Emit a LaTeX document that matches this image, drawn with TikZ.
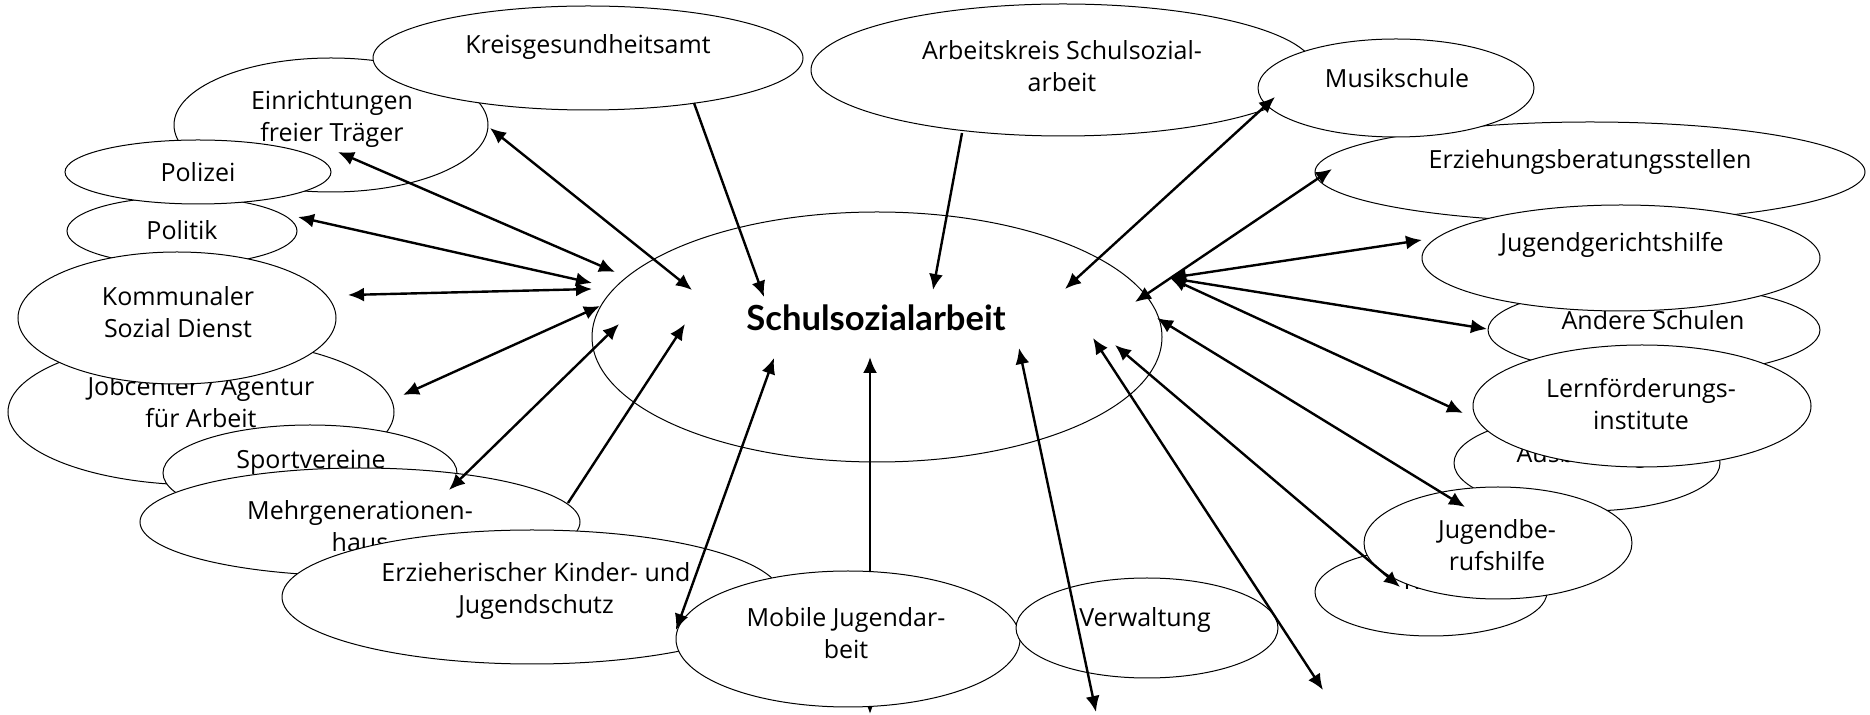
\documentclass[tikz,border=0pt]{standalone}
\usepackage{fontspec}
\setmainfont{Open Sans}
\newfontfamily\centrefont{Lato}
\usetikzlibrary{shapes.geometric,arrows.meta}

\tikzset{
  bubble/.style={draw, ellipse, fill=white, inner sep=0pt, line width=0.5pt},
  lbl/.style={align=center, inner sep=0pt, font=\fontsize{12.5}{16}\selectfont},
  lblr/.style={lbl},
  link/.style={line width=1.2pt, <->, >={Latex[length=8pt,width=7pt]}},
  into/.style={line width=1.2pt, ->, >={Latex[length=8pt,width=7pt]}},
}

\begin{document}
\begin{tikzpicture}[x=0.5pt, y=-0.5pt]
\useasboundingbox (0,0) rectangle (1870,715);

% centre
\node[bubble, fill=none, minimum width=285pt, minimum height=125pt] (ssa) at (877,337) {};
\node[lbl, font=\centrefont\fontsize{17.3}{20}\selectfont\bfseries] (ssaT) at (876,318) {Schulsozialarbeit};

% left side
\node[bubble, minimum width=157pt, minimum height=67pt] (einr) at (331,125) {};
\node[lbl] (einrT) at (332,119) {Einrichtungen\\freier Träger};
\node[bubble, minimum width=215pt, minimum height=52pt] (kreis) at (588,58) {};
\node[lbl] (kreisT) at (588,47) {Kreisgesundheitsamt};
\node[bubble, minimum width=115pt, minimum height=34pt] (politik) at (182,231) {};
\node[lbl] (politikT) at (182,230) {Politik};
\node[bubble, minimum width=133pt, minimum height=32pt] (polizei) at (198,172) {};
\node[lbl] (polizeiT) at (198,172) {Polizei};
\node[bubble, minimum width=193pt, minimum height=73pt] (job) at (201,412) {};
\node[lbl] (jobT) at (201,402) {Jobcenter / Agentur\\für Arbeit};
\node[bubble, minimum width=159pt, minimum height=66pt] (ksd) at (177,318) {};
\node[lbl] (ksdT) at (178,312) {Kommunaler\\Sozial Dienst};
\node[bubble, minimum width=147pt, minimum height=48pt] (sport) at (310,473) {};
\node[lbl] (sportT) at (311,462) {Sportvereine};
\node[bubble, minimum width=220pt, minimum height=54pt] (mgh) at (360,522) {};
\node[lbl] (mghT) at (360,526) {Mehrgenerationen-\\haus};
\node[bubble, minimum width=250pt, minimum height=67pt] (ekj) at (532,597) {};
\node[lbl] (ekjT) at (536,591) {Erzieherischer Kinder- und\\Jugendschutz};

% arrow under Mobile Jugendarbeit
\coordinate (mob-in) at (870,357);
\coordinate (mob-out) at (870,714);
\draw[link] (mob-out) -- (mob-in);

% bottom
\node[bubble, minimum width=172pt, minimum height=68pt] (mob) at (848,639) {};
\node[lbl] (mobT) at (846,633) {Mobile Jugendar-\\beit};
\node[bubble, minimum width=131pt, minimum height=50pt] (verw) at (1147,628) {};
\node[lbl] (verwT) at (1145,620) {Verwaltung};

% top and right side
\node[bubble, minimum width=252pt, minimum height=66pt] (ak) at (1063,70) {};
\node[lbl] (akT) at (1062,66) {Arbeitskreis Schulsozial-\\arbeit};
\node[bubble, minimum width=275pt, minimum height=50pt] (eb) at (1590,172) {};
\node[lbl] (ebT) at (1590,162) {Erziehungsberatungsstellen};
\node[bubble, minimum width=138pt, minimum height=49pt] (musik) at (1396,88) {};
\node[lbl] (musikT) at (1397,78) {Musikschule};
\node[bubble, minimum width=166pt, minimum height=45pt] (andere) at (1654,330) {};
\node[lblr] (andereT) at (1653,320) {Andere Schulen};
\node[bubble, minimum width=199pt, minimum height=53pt] (jgh) at (1621,258) {};
\node[lbl] (jghT) at (1612,245) {Jugendgerichtshilfe};
\node[bubble, minimum width=133pt, minimum height=48pt] (aus) at (1587,463) {};
\node[lblr] (ausT) at (1582,456) {Ausbildung};
\node[bubble, minimum width=169pt, minimum height=61pt] (lern) at (1642,406) {};
\node[lblr] (lernT) at (1641,404) {Lernförderungs-\\institute};
\node[bubble, minimum width=116pt, minimum height=44pt] (kirche) at (1431,592) {};
\node[lblr] (kircheT) at (1440,580) {Kirche};
\node[bubble, minimum width=134pt, minimum height=56pt] (jbh) at (1498,543) {};
\node[lblr] (jbhT) at (1497,545) {Jugendbe-\\rufshilfe};

% arrow ends
\coordinate (einr-out) at (338,152);  \coordinate (einr-in) at (615,272);
\coordinate (einr2-out) at (490,128); \coordinate (einr2-in) at (692,290);
\coordinate (politik-out) at (298,217); \coordinate (politik-in) at (592,283);
\coordinate (ksd-out) at (348,295);   \coordinate (ksd-in) at (592,289);
\coordinate (job-out) at (403,395);   \coordinate (job-in) at (600,306);
\coordinate (mgh-out) at (449,490);   \coordinate (mgh-in) at (619,324);
\coordinate (mgh2-out) at (568,503);  \coordinate (mgh2-in) at (685,324);
\coordinate (ekj-out) at (676,630);   \coordinate (ekj-in) at (774,358);
\coordinate (verw-out) at (1096,712); \coordinate (verw-in) at (1019,348);
\coordinate (low-out) at (1323,690);  \coordinate (low-in) at (1093,338);
\coordinate (kirche-out) at (1400,587); \coordinate (kirche-in) at (1115,345);
\coordinate (jbh-out) at (1465,507);  \coordinate (jbh-in) at (1157,318);
\coordinate (hub) at (1170,278);
\coordinate (lern-out) at (1463,413);
\coordinate (andere-out) at (1487,329);
\coordinate (jgh-out) at (1422,240);
\coordinate (eb-out) at (1332,169);   \coordinate (eb-in) at (1135,302);
\coordinate (musik-out) at (1275,97); \coordinate (musik-in) at (1065,289);
\coordinate (ak-out) at (962,133);    \coordinate (ak-in) at (933,290);
\coordinate (kreis-out) at (694,103); \coordinate (kreis-in) at (764,297);

% two-way links
\draw[link] (einr-out) -- (einr-in);
\draw[link] (einr2-out) -- (einr2-in);
\draw[link] (politik-out) -- (politik-in);
\draw[link] (ksd-out) -- (ksd-in);
\draw[link] (job-out) -- (job-in);
\draw[link] (mgh-out) -- (mgh-in);
\draw[link] (ekj-out) -- (ekj-in);
\draw[link] (verw-out) -- (verw-in);
\draw[link] (low-out) -- (low-in);
\draw[link] (kirche-out) -- (kirche-in);
\draw[link] (jbh-out) -- (jbh-in);
\draw[link] (lern-out) -- (hub);
\draw[link] (andere-out) -- (hub);
\draw[link] (jgh-out) -- (hub);
\draw[link] (eb-out) -- (eb-in);
\draw[link] (musik-out) -- (musik-in);

% one-way links
\draw[into] (mgh2-out) -- (mgh2-in);
\draw[into] (ak-out) -- (ak-in);
\draw[into] (kreis-out) -- (kreis-in);
\end{tikzpicture}
\end{document}
